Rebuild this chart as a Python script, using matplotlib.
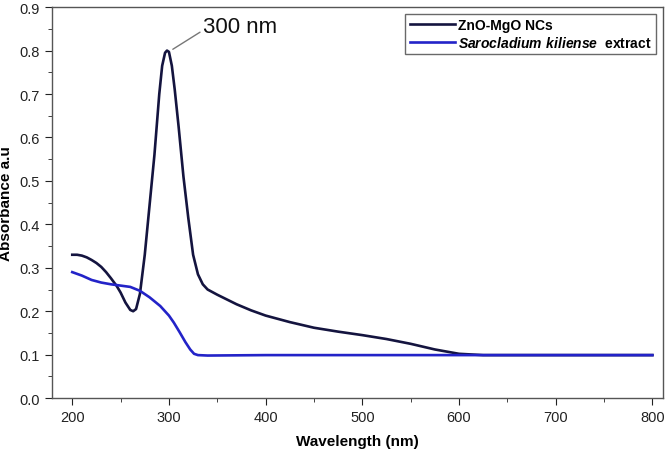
import matplotlib
matplotlib.use("Agg")
import matplotlib.pyplot as plt
from matplotlib.ticker import MultipleLocator

plt.rcParams['font.family'] = ['Liberation Sans', 'DejaVu Sans']
plt.rcParams['mathtext.fontset'] = 'custom'
plt.rcParams['mathtext.bfit'] = 'Liberation Sans:bold:italic'

# ZnO-MgO NCs spectrum
wl_zno = [200, 205, 210, 215, 220, 225, 230, 235, 240, 246, 250, 255, 260, 263,
          266, 270, 275, 280, 285, 290, 293, 296, 298, 300, 303, 306, 310, 315,
          320, 325, 330, 335, 340, 350, 360, 370, 385, 400, 425, 450, 475, 500,
          525, 550, 575, 600, 625, 650, 700, 750, 800]
abs_zno = [0.330, 0.330, 0.328, 0.324, 0.318, 0.311, 0.302, 0.290, 0.276, 0.258,
           0.243, 0.220, 0.203, 0.200, 0.205, 0.240, 0.330, 0.445, 0.560, 0.700,
           0.765, 0.795, 0.800, 0.797, 0.765, 0.710, 0.625, 0.510, 0.415, 0.330,
           0.285, 0.262, 0.250, 0.238, 0.227, 0.216, 0.202, 0.190, 0.175, 0.162,
           0.153, 0.145, 0.136, 0.125, 0.112, 0.102, 0.099, 0.099, 0.099, 0.099,
           0.099]

# Sarocladium kiliense extract spectrum
wl_ext = [200, 210, 220, 230, 240, 250, 260, 270, 280, 291, 300, 305, 311, 317,
          322, 326, 330, 340, 400, 500, 600, 700, 800]
abs_ext = [0.290, 0.282, 0.272, 0.266, 0.262, 0.259, 0.256, 0.247, 0.232, 0.212,
           0.190, 0.174, 0.152, 0.129, 0.112, 0.102, 0.099, 0.098, 0.099, 0.099,
           0.099, 0.099, 0.099]


def main():
    fig = plt.figure(figsize=(6.66, 4.52), dpi=100)
    ax = fig.add_axes([0.078, 0.117, 0.9175, 0.865])

    ax.plot(wl_zno, abs_zno, color='#14143f', lw=1.9, label='ZnO-MgO NCs')
    ax.plot(wl_ext, abs_ext, color='#2323c8', lw=1.9,
            label=r'$\mathbfit{Sarocladium\ kiliense}$  extract')

    ax.set_xlim(179, 811)
    ax.set_ylim(0, 0.9)
    ax.xaxis.set_major_locator(MultipleLocator(100))
    ax.xaxis.set_minor_locator(MultipleLocator(50))
    ax.yaxis.set_major_locator(MultipleLocator(0.1))
    ax.yaxis.set_minor_locator(MultipleLocator(0.05))
    ax.yaxis.set_major_formatter(plt.FormatStrFormatter('%.1f'))
    ax.tick_params(which='both', direction='out', top=False, right=False,
                   labelsize=10.5, colors='#222222')
    ax.tick_params(which='major', length=5)
    ax.tick_params(which='minor', length=3)
    for s in ax.spines.values():
        s.set_color('#555555')
        s.set_linewidth(1.0)

    ax.set_xlabel('Wavelength (nm)', fontsize=11, fontweight='bold', labelpad=7)
    ax.set_ylabel('Absorbance a.u', fontsize=11, fontweight='bold', labelpad=5)

    ax.annotate('300 nm', xy=(304, 0.803), xytext=(335, 0.856), fontsize=16,
                va='center', ha='left', color='#111111',
                arrowprops=dict(arrowstyle='-', color='#777777', lw=1,
                                shrinkA=0, shrinkB=0, relpos=(0, 0.3)))

    leg = ax.legend(loc='upper right', bbox_to_anchor=(0.9955, 0.993),
                    prop={'weight': 'bold', 'size': 10}, frameon=True,
                    fancybox=False, edgecolor='#444444', handlelength=3.3,
                    handletextpad=0.2, borderpad=0.3, labelspacing=0.2,
                    borderaxespad=0.3)
    leg.get_frame().set_linewidth(1.0)

    fig.savefig('out.png', dpi=100)


if __name__ == "__main__":
    main()
